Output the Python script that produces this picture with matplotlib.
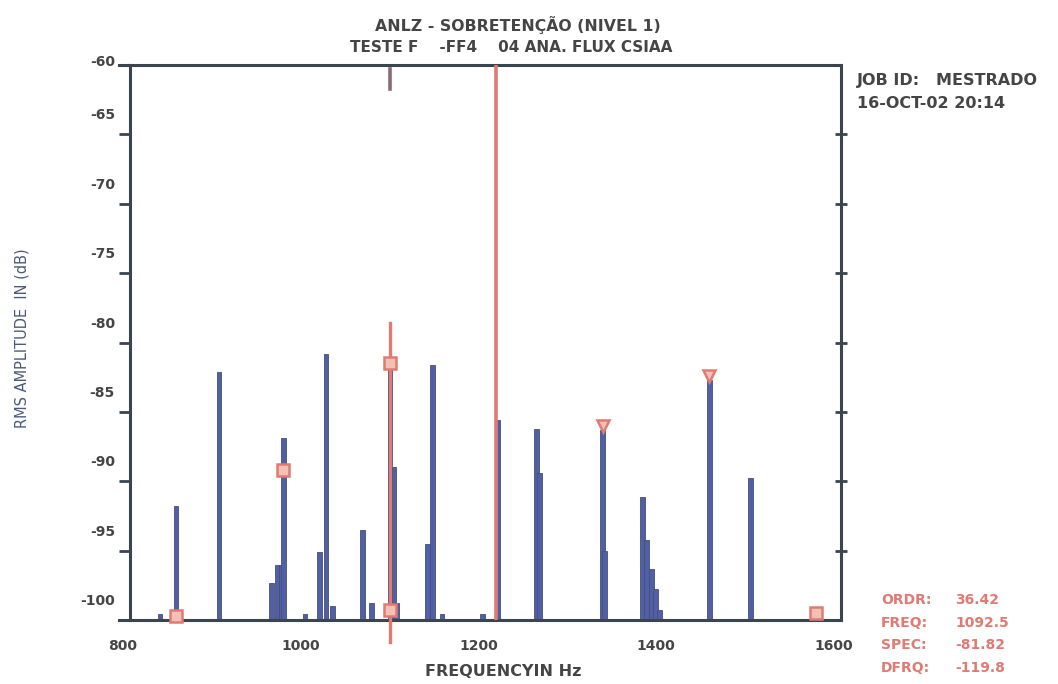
import matplotlib
matplotlib.use("Agg")
import matplotlib.pyplot as plt

# spectrum lines (Hz, dB)
freqs = [833.7, 851.7, 900.1, 959.7, 965.4, 969.9, 972.7, 996.9, 1013.7, 1020.5,
         1028.3, 1062.1, 1072.2, 1092.5, 1097.0, 1100.3, 1135.2, 1140.8, 1151.0,
         1197.1, 1214.0, 1257.8, 1261.2, 1332.1, 1334.3, 1377.1, 1381.6, 1387.2,
         1391.7, 1396.2, 1451.9, 1498.5, 1571.7]
amps = [-99.6, -91.8, -82.1, -97.3, -96.0, -96.0, -86.9, -99.6, -95.1, -80.8,
        -99.0, -93.5, -98.8, -81.5, -89.0, -98.8, -94.5, -81.6, -99.6,
        -99.6, -85.6, -86.2, -89.4, -86.3, -95.0, -91.1, -94.2, -96.3,
        -97.8, -99.3, -82.7, -89.8, -99.1]

# harmonic cursor markers
sq_freqs = [851.7, 972.7, 1092.5, 1092.5, 1571.7]
sq_amps = [-99.7, -89.2, -81.5, -99.3, -99.5]
tri_freqs = [1332.1, 1451.9]
tri_amps = [-86.0, -82.4]

cursor_freq = 1092.5
line_freq = 1212.3

xticks = [800, 1000, 1200, 1400, 1600]
yticks = [-60, -65, -70, -75, -80, -85, -90, -95, -100]

readout_labels = ["ORDR:", "FREQ:", "SPEC:", "DFRQ:"]
readout_values = ["36.42", "1092.5", "-81.82", "-119.8"]

plt.rcParams['font.family'] = ['DejaVu Sans']
dark = '#3a4550'
txt = '#454545'
red = '#e07a72'
blue = '#5060a8'

fig = plt.figure(figsize=(10.58, 6.84), dpi=100)
ax = fig.add_axes([130 / 1058, 1 - 620 / 684, 711 / 1058, 555 / 684])

ax.bar(freqs, [a + 100 for a in amps], bottom=-100, width=5.5, color=blue,
       edgecolor='#485070', linewidth=0.6, zorder=2)

# red cursor lines
ax.plot([line_freq, line_freq], [-100, -60], color=red, lw=2.6, zorder=3)
ax.plot([cursor_freq, cursor_freq], [-101.6, -78.6], color=red, lw=2.4,
        zorder=3, clip_on=False)
ax.plot([cursor_freq, cursor_freq], [-60.3, -61.7], color='#8a6a78', lw=2.6, zorder=3)

ax.plot(sq_freqs, sq_amps, 's', ms=8, mfc='#f3c0b4', mec=red, mew=1.8, zorder=4,
        clip_on=False)
ax.plot(tri_freqs, tri_amps, 'v', ms=9, mfc='#f3c0b4', mec=red, mew=1.8, zorder=4)

ax.set_xlim(800, 1600)
ax.set_ylim(-100, -60)

for s in ax.spines.values():
    s.set_color(dark)
    s.set_linewidth(2.2)

ax.set_xticks(xticks)
ax.set_xticklabels([])
ax.tick_params(axis='x', length=0)
ax.set_yticks(yticks[1:-1])
ax.set_yticklabels([])
ax.tick_params(axis='y', direction='out', length=8, width=2, color=dark)

sec = ax.secondary_yaxis('right')
sec.spines['right'].set_visible(False)
sec.set_yticks(yticks[1:-1])
sec.set_yticklabels([])
sec.tick_params(axis='y', direction='inout', length=8, width=2, color=dark)

# spine overhang at left
for yv in (0, 1):
    ax.plot([-0.015, 0], [yv, yv], transform=ax.transAxes, color=dark, lw=2.2,
            clip_on=False)

# tick labels, slightly misregistered like the scan
for v in yticks:
    dy = 3 if v == -60 else 19
    ax.annotate(str(v), xy=(0, v), xycoords=('axes fraction', 'data'),
                xytext=(-15, dy), textcoords='offset pixels', ha='right',
                va='center', fontsize=10, fontweight='bold', color=txt)
for v in xticks:
    ax.annotate(str(v), xy=(v, 0), xycoords=('data', 'axes fraction'),
                xytext=(-7, -26), textcoords='offset pixels', ha='center',
                va='center', fontsize=10, fontweight='bold', color=txt)

fig.text(518 / 1058, 1 - 25 / 684, "ANLZ - SOBRETENÇÃO (NIVEL 1)", ha='center',
         va='center', fontsize=11.3, fontweight='bold', color=txt)
fig.text(511 / 1058, 1 - 48 / 684, "TESTE F    -FF4    04 ANA. FLUX CSIAA",
         ha='center', va='center', fontsize=11, fontweight='bold', color=txt)
fig.text(857 / 1058, 1 - 80 / 684, "JOB ID:   MESTRADO", ha='left', va='center',
         fontsize=11.5, fontweight='bold', color=txt)
fig.text(857 / 1058, 1 - 104 / 684, "16-OCT-02 20:14", ha='left', va='center',
         fontsize=11.5, fontweight='bold', color=txt)
fig.text(503 / 1058, 1 - 672 / 684, "FREQUENCYIN Hz", ha='center', va='center',
         fontsize=11.5, fontweight='bold', color=txt)
fig.text(22 / 1058, 1 - 338 / 684, "RMS AMPLITUDE  IN (dB)", ha='center',
         va='center', rotation=90, fontsize=10.5, color='#4a5a78')

for i, (lab, val) in enumerate(zip(readout_labels, readout_values)):
    yy = 1 - (600 + 22.7 * i) / 684
    fig.text(881 / 1058, yy, lab, ha='left', va='center', fontsize=10,
             fontweight='bold', color=red)
    fig.text(955 / 1058, yy, val, ha='left', va='center', fontsize=10,
             fontweight='bold', color=red)

fig.savefig("out.png", dpi=100)
